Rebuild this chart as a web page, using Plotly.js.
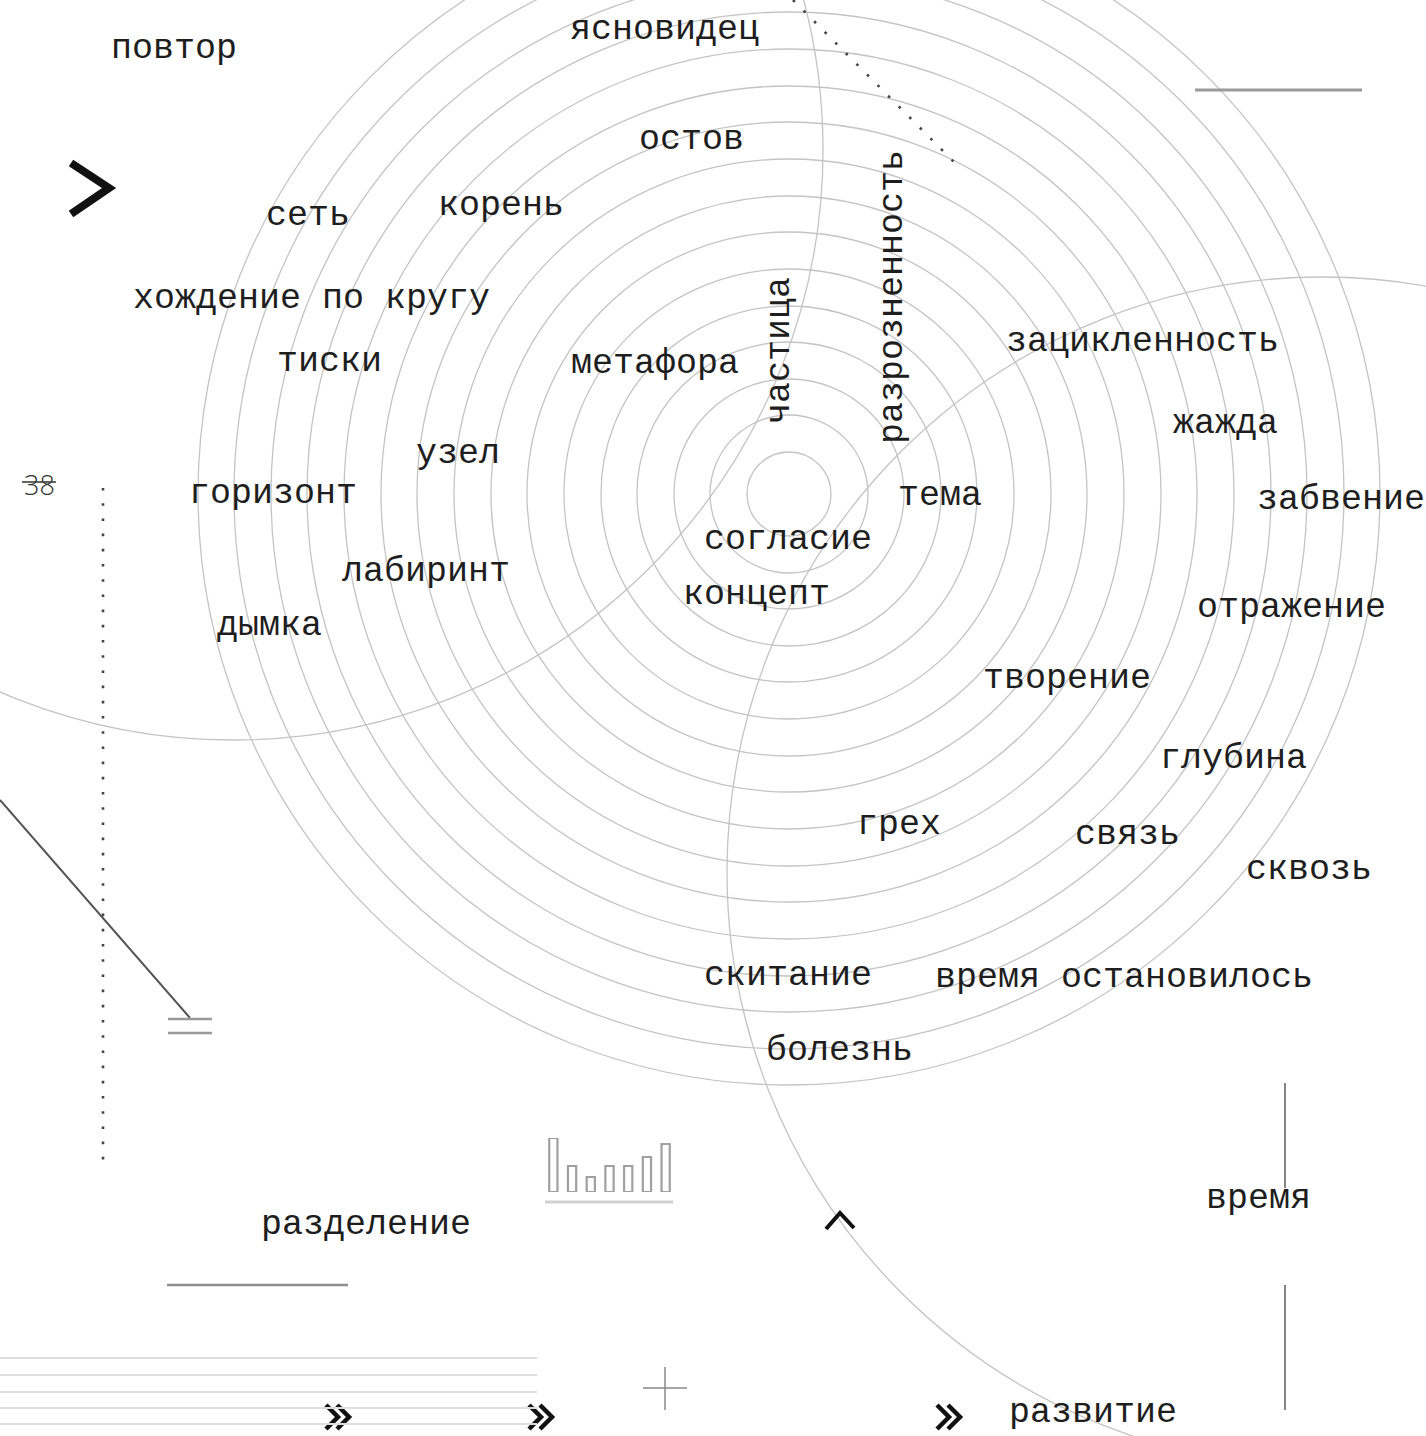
<!DOCTYPE html>
<html>
<head>
<meta charset="utf-8">
<script src="https://cdn.plot.ly/plotly-3.0.1.min.js"></script>
<style>html,body{margin:0;padding:0;background:#fff;}#chart{width:1426px;height:1436px;}</style>
</head>
<body>
<div id="chart"></div>
<script>
// ---------- data ----------
const ringCenterX = 789;
const ringCenterY = 494;
const ringRadii = [42, 79, 115, 152, 188, 225, 262, 298, 335, 372, 408, 445, 482, 518, 555, 591];

const arcCentersX = [233, 1322];
const arcCentersY = [150, 872];
const arcRadii = [590, 595];

const words = ["повтор","ясновидец","остов","сеть","корень","хождение по кругу","тиски","метафора",
  "зацикленность","жажда","узел","горизонт","тема","забвение","согласие","лабиринт","концепт",
  "отражение","дымка","творение","глубина","грех","связь","сквозь","скитание","время остановилось",
  "болезнь","разделение","время","развитие"];
const wordX = [174,664,691,308,501,311,329,655,1142,1225,458,273,940,1341,788,426,756,1291,269,1067,
  1233,899,1127,1309,788,1124,839,366,1258,1093];
const wordY = [49,30,140,216,206,299,362,364,342,424,454,494,496,500,540,572,595,608,626,679,759,825,
  835,870,976,978,1051,1225,1199,1413];

const verticalWords = ["частица","разрозненность"];
const verticalX = [780, 893];
const verticalY = [351, 297];

const barCategories = ["1","2","3","4","5","6","7"];
const barValues = [54, 26, 15, 26, 26, 35, 48];

// ---------- build ----------
const W = 1426, H = 1436;
const shapes = [];
const ringColor = "#c4c4c4";
ringRadii.forEach(r => {
  shapes.push({type:"circle", xref:"x", yref:"y", x0:ringCenterX-r, x1:ringCenterX+r,
    y0:ringCenterY-r, y1:ringCenterY+r, line:{color:ringColor, width:1.3}, layer:"below"});
});
arcRadii.forEach((r,i) => {
  shapes.push({type:"circle", xref:"x", yref:"y", x0:arcCentersX[i]-r, x1:arcCentersX[i]+r,
    y0:arcCentersY[i]-r, y1:arcCentersY[i]+r, line:{color:ringColor, width:1.3}, layer:"below"});
});
function seg(x0,y0,x1,y1,color,width){
  shapes.push({type:"line", xref:"x", yref:"y", x0:x0, y0:y0, x1:x1, y1:y1, line:{color:color, width:width}});
}
// decorative strokes
seg(1195,90,1362,90,"#9a9a9a",3);
seg(0,800,190,1018,"#555",2);
seg(168,1019,212,1019,"#999",2.5);
seg(168,1033,212,1033,"#999",2.5);
seg(167,1285,348,1285,"#8f8f8f",2.5);
[1358,1375,1392,1408,1424].forEach(y => seg(0,y,537,y,"#dedede",2));
seg(643,1388,687,1388,"#888",1.5);
seg(665,1367,665,1410,"#888",1.5);
seg(1285,1083,1285,1188,"#666",1.6);
seg(1285,1285,1285,1410,"#666",1.6);
seg(545,1202,673,1202,"#d0d0d0",3);
seg(22,482,56,482,"#333",1.5);

const traces = [];
function poly(xs,ys,color,width,dash){
  traces.push({type:"scatter", mode:"lines", x:xs, y:ys, xaxis:"x", yaxis:"y",
    line:{color:color, width:width, dash:dash||"solid"}, hoverinfo:"skip", showlegend:false});
}
poly([103,103],[488,1160],"#444",2.6,"2.6px,12.6px");
poly([793,955],[0,163],"#444",2.6,"2.6px,12.4px");
poly([71,109,71],[163,188,214],"#111",8);
poly([826,840,854],[1229,1213,1228],"#111",4);
[[326,1405],[529,1405],[937,1405]].forEach(p => {
  const x = p[0], y = p[1];
  poly([x,x+12,x],[y,y+12,y+24],"#111",4.5);
  poly([x+11,x+23,x+11],[y,y+12,y+24],"#111",4.5);
});

traces.push({type:"bar", x:barCategories, y:barValues, xaxis:"x2", yaxis:"y2",
  marker:{color:"#ffffff", line:{color:"#a0a0a0", width:2.2}}, hoverinfo:"skip", showlegend:false});

const font = {family:"Liberation Mono, Courier New, monospace", size:35, color:"#1e1e1e"};
const annotations = [];
words.forEach((w,i) => annotations.push({text:w, x:wordX[i], y:wordY[i], xref:"x", yref:"y",
  showarrow:false, xanchor:"center", yanchor:"middle", font:font}));
verticalWords.forEach((w,i) => annotations.push({text:w, x:verticalX[i], y:verticalY[i], xref:"x", yref:"y",
  showarrow:false, xanchor:"center", yanchor:"middle", textangle:-90, font:font}));
annotations.push({text:"38", x:39, y:484, xref:"x", yref:"y", showarrow:false, xanchor:"center", yanchor:"middle",
  font:{family:"Open Sans, sans-serif", size:27, color:"#333", weight:300}});

const hidden = {showgrid:false, zeroline:false, showticklabels:false, ticks:"", showline:false, fixedrange:true};
const layout = {
  width:W, height:H, margin:{l:0,r:0,t:0,b:0}, paper_bgcolor:"#fff", plot_bgcolor:"rgba(0,0,0,0)",
  xaxis:Object.assign({range:[0,W], domain:[0,1]}, hidden),
  yaxis:Object.assign({range:[H,0], domain:[0,1]}, hidden),
  xaxis2:Object.assign({range:[-0.5,6.5], domain:[544/W, 675/W], anchor:"y2", type:"category"}, hidden),
  yaxis2:Object.assign({range:[0,54], domain:[(H-1192)/H, (H-1138)/H], anchor:"x2"}, hidden),
  bargap:0.56,
  shapes:shapes, annotations:annotations, showlegend:false
};
Plotly.newPlot("chart", traces, layout, {staticPlot:true, displayModeBar:false});
</script>
</body>
</html>
